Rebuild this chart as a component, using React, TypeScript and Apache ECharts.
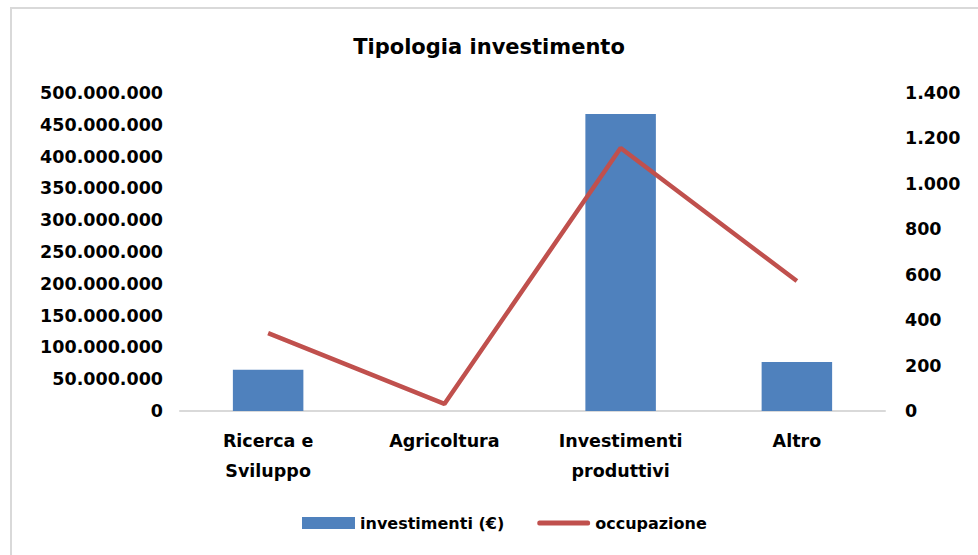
import React, { useEffect, useRef } from "react";
import * as echarts from "echarts";

const categories = ["Ricerca e\nSviluppo", "Agricoltura", "Investimenti\nproduttivi", "Altro"];
const investimenti = [65000000, 0, 467000000, 77000000];
const occupazione = [343, 31, 1158, 572];
const leftTicks = { min: 0, max: 500000000, interval: 50000000 };
const rightTicks = { min: 0, max: 1400, interval: 200 };

const fmt = (v: number) => Math.round(v).toString().replace(/\B(?=(\d{3})+(?!\d))/g, ".");

const FONT = "'DejaVu Sans', sans-serif";

export default function App() {
  const ref = useRef<HTMLDivElement>(null);
  useEffect(() => {
    if (!ref.current) return;
    const chart = echarts.init(ref.current, undefined, { renderer: "svg" });
    chart.setOption({
      animation: false,
      backgroundColor: "#ffffff",
      textStyle: { fontFamily: FONT },
      title: {
        text: "Tipologia investimento",
        left: "center",
        top: 31,
        textStyle: { fontSize: 21, fontWeight: "bold", color: "#000", fontFamily: FONT },
      },
      graphic: [
        {
          type: "rect",
          shape: { x: 11, y: 8, width: 980, height: 560 },
          style: { fill: "none", stroke: "#d9d9d9", lineWidth: 2 },
          silent: true,
        },
      ],
      legend: {
        bottom: 19,
        left: 297,
        itemGap: 33,
        itemWidth: 53,
        itemHeight: 12,
        textStyle: { fontSize: 16, fontWeight: "bold", color: "#000", fontFamily: FONT },
        data: [
          { name: "investimenti (€)", icon: "rect" },
          {
            name: "occupazione",
            icon: "path://M2,0 L51,0 Q53,0 53,2.5 Q53,5 51,5 L2,5 Q0,5 0,2.5 Q0,0 2,0 Z",
            itemStyle: { color: "#c0504d" },
          },
        ],
      },
      grid: { left: 180, right: 93, top: 93, bottom: 144 },
      xAxis: {
        type: "category",
        data: categories,
        axisLine: { lineStyle: { color: "#d9d9d9", width: 2 } },
        axisTick: { show: false },
        axisLabel: {
          color: "#000",
          fontSize: 17.5,
          fontWeight: "bold",
          lineHeight: 30,
          margin: 15,
          fontFamily: FONT,
        },
      },
      yAxis: [
        {
          type: "value",
          ...leftTicks,
          splitLine: { show: false },
          axisLine: { show: false },
          axisTick: { show: false },
          axisLabel: {
            color: "#000",
            fontSize: 17.5,
            fontWeight: "bold",
            margin: 17,
            fontFamily: FONT,
            formatter: (v: number) => fmt(v),
          },
        },
        {
          type: "value",
          ...rightTicks,
          position: "right",
          splitLine: { show: false },
          axisLine: { show: false },
          axisTick: { show: false },
          axisLabel: {
            color: "#000",
            fontSize: 17.5,
            fontWeight: "bold",
            margin: 20,
            fontFamily: FONT,
            formatter: (v: number) => fmt(v),
          },
        },
      ],
      series: [
        {
          name: "investimenti (€)",
          type: "bar",
          data: investimenti,
          barWidth: "40%",
          itemStyle: { color: "#4f81bd" },
          yAxisIndex: 0,
        },
        {
          name: "occupazione",
          type: "line",
          data: occupazione,
          yAxisIndex: 1,
          symbol: "none",
          lineStyle: { color: "#c0504d", width: 4.5 },
          itemStyle: { color: "#c0504d" },
        },
      ],
    });
    return () => chart.dispose();
  }, []);
  return (
    <div
      ref={ref}
      style={{ position: "absolute", left: 0, top: 0, width: 978, height: 555 }}
    />
  );
}
